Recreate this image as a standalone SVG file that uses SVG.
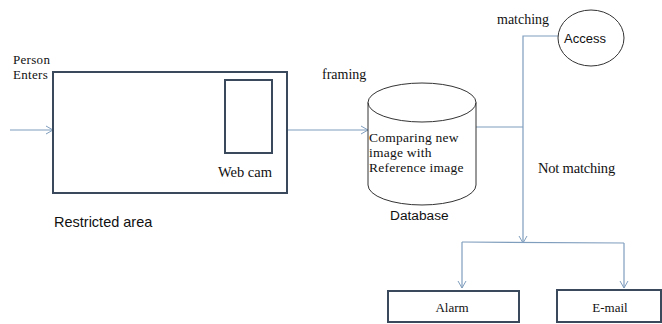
<svg xmlns="http://www.w3.org/2000/svg" width="662" height="324" viewBox="0 0 662 324">
<style>
.box{fill:none;stroke:#3a4a5c;stroke-width:2}
.shape{fill:none;stroke:#333;stroke-width:1}
.conn{fill:none;stroke:#7f9dbd;stroke-width:1.2}
.serif{font-family:"Liberation Serif","Times New Roman",serif;font-size:14px;fill:#111}
.sans{font-family:"Liberation Sans",Arial,sans-serif;font-size:14px;fill:#111}
</style>
<defs>
<marker id="arr" markerWidth="10" markerHeight="10" refX="8" refY="5" orient="auto" markerUnits="userSpaceOnUse">
<path d="M1,1 L8,5 L1,9" fill="none" stroke="#7f9dbd" stroke-width="1"/>
</marker>
</defs>
<g id="connectors">
<line class="conn" x1="10" y1="130" x2="53" y2="130" marker-end="url(#arr)"/>
<line class="conn" x1="288" y1="130" x2="368" y2="130" marker-end="url(#arr)"/>
<line class="conn" x1="476" y1="127" x2="523" y2="127"/>
<polyline class="conn" points="558,36 523,36 523,243" marker-end="url(#arr)"/>
<line class="conn" x1="462" y1="242" x2="624" y2="243"/>
<line class="conn" x1="462" y1="242" x2="462" y2="288" marker-end="url(#arr)"/>
<line class="conn" x1="624" y1="243" x2="624" y2="288" marker-end="url(#arr)"/>
</g>
<g id="person">
<text class="serif" x="13" y="64" style="font-size:13px" letter-spacing="0.3">Person</text>
<text class="serif" x="13" y="79" style="font-size:13px" letter-spacing="0.3">Enters</text>
</g>
<g id="restricted-area">
<rect class="box" x="53" y="72" width="234" height="121"/>
<text class="sans" x="54" y="227" style="font-size:14.5px">Restricted area</text>
</g>
<g id="webcam">
<rect class="box" x="225" y="80" width="47" height="73"/>
<text class="serif" x="218" y="177" style="font-size:14.5px">Web cam</text>
</g>
<g id="framing">
<text class="serif" x="322" y="79">framing</text>
</g>
<g id="database">
<path class="shape" d="M368,102.5 L368,185 A54,20 0 0 0 476,185 L476,102.5"/>
<ellipse class="shape" cx="422" cy="102.5" rx="54" ry="19.5"/>
<text class="serif" x="369" y="142" style="font-size:13.5px" letter-spacing="0.25">Comparing new</text>
<text class="serif" x="369" y="157" style="font-size:13.5px" letter-spacing="0.25">image with</text>
<text class="serif" x="369" y="172" style="font-size:13.5px" letter-spacing="0.25">Reference image</text>
<text class="sans" x="390" y="220" style="font-size:13.7px">Database</text>
</g>
<g id="access">
<ellipse class="shape" cx="591" cy="38" rx="33" ry="28"/>
<text class="sans" x="564" y="43" style="font-size:13px">Access</text>
<text class="serif" x="497" y="24">matching</text>
</g>
<g id="not-matching">
<text class="serif" x="538" y="173" style="font-size:14.5px" letter-spacing="-0.2">Not matching</text>
</g>
<g id="alarm">
<rect class="box" x="388" y="291" width="131" height="31"/>
<text class="serif" x="452" y="312" text-anchor="middle" style="font-size:13px">Alarm</text>
</g>
<g id="email">
<rect class="box" x="557" y="290" width="104" height="32"/>
<text class="serif" x="610" y="312" text-anchor="middle" style="font-size:13px">E-mail</text>
</g>
</svg>
